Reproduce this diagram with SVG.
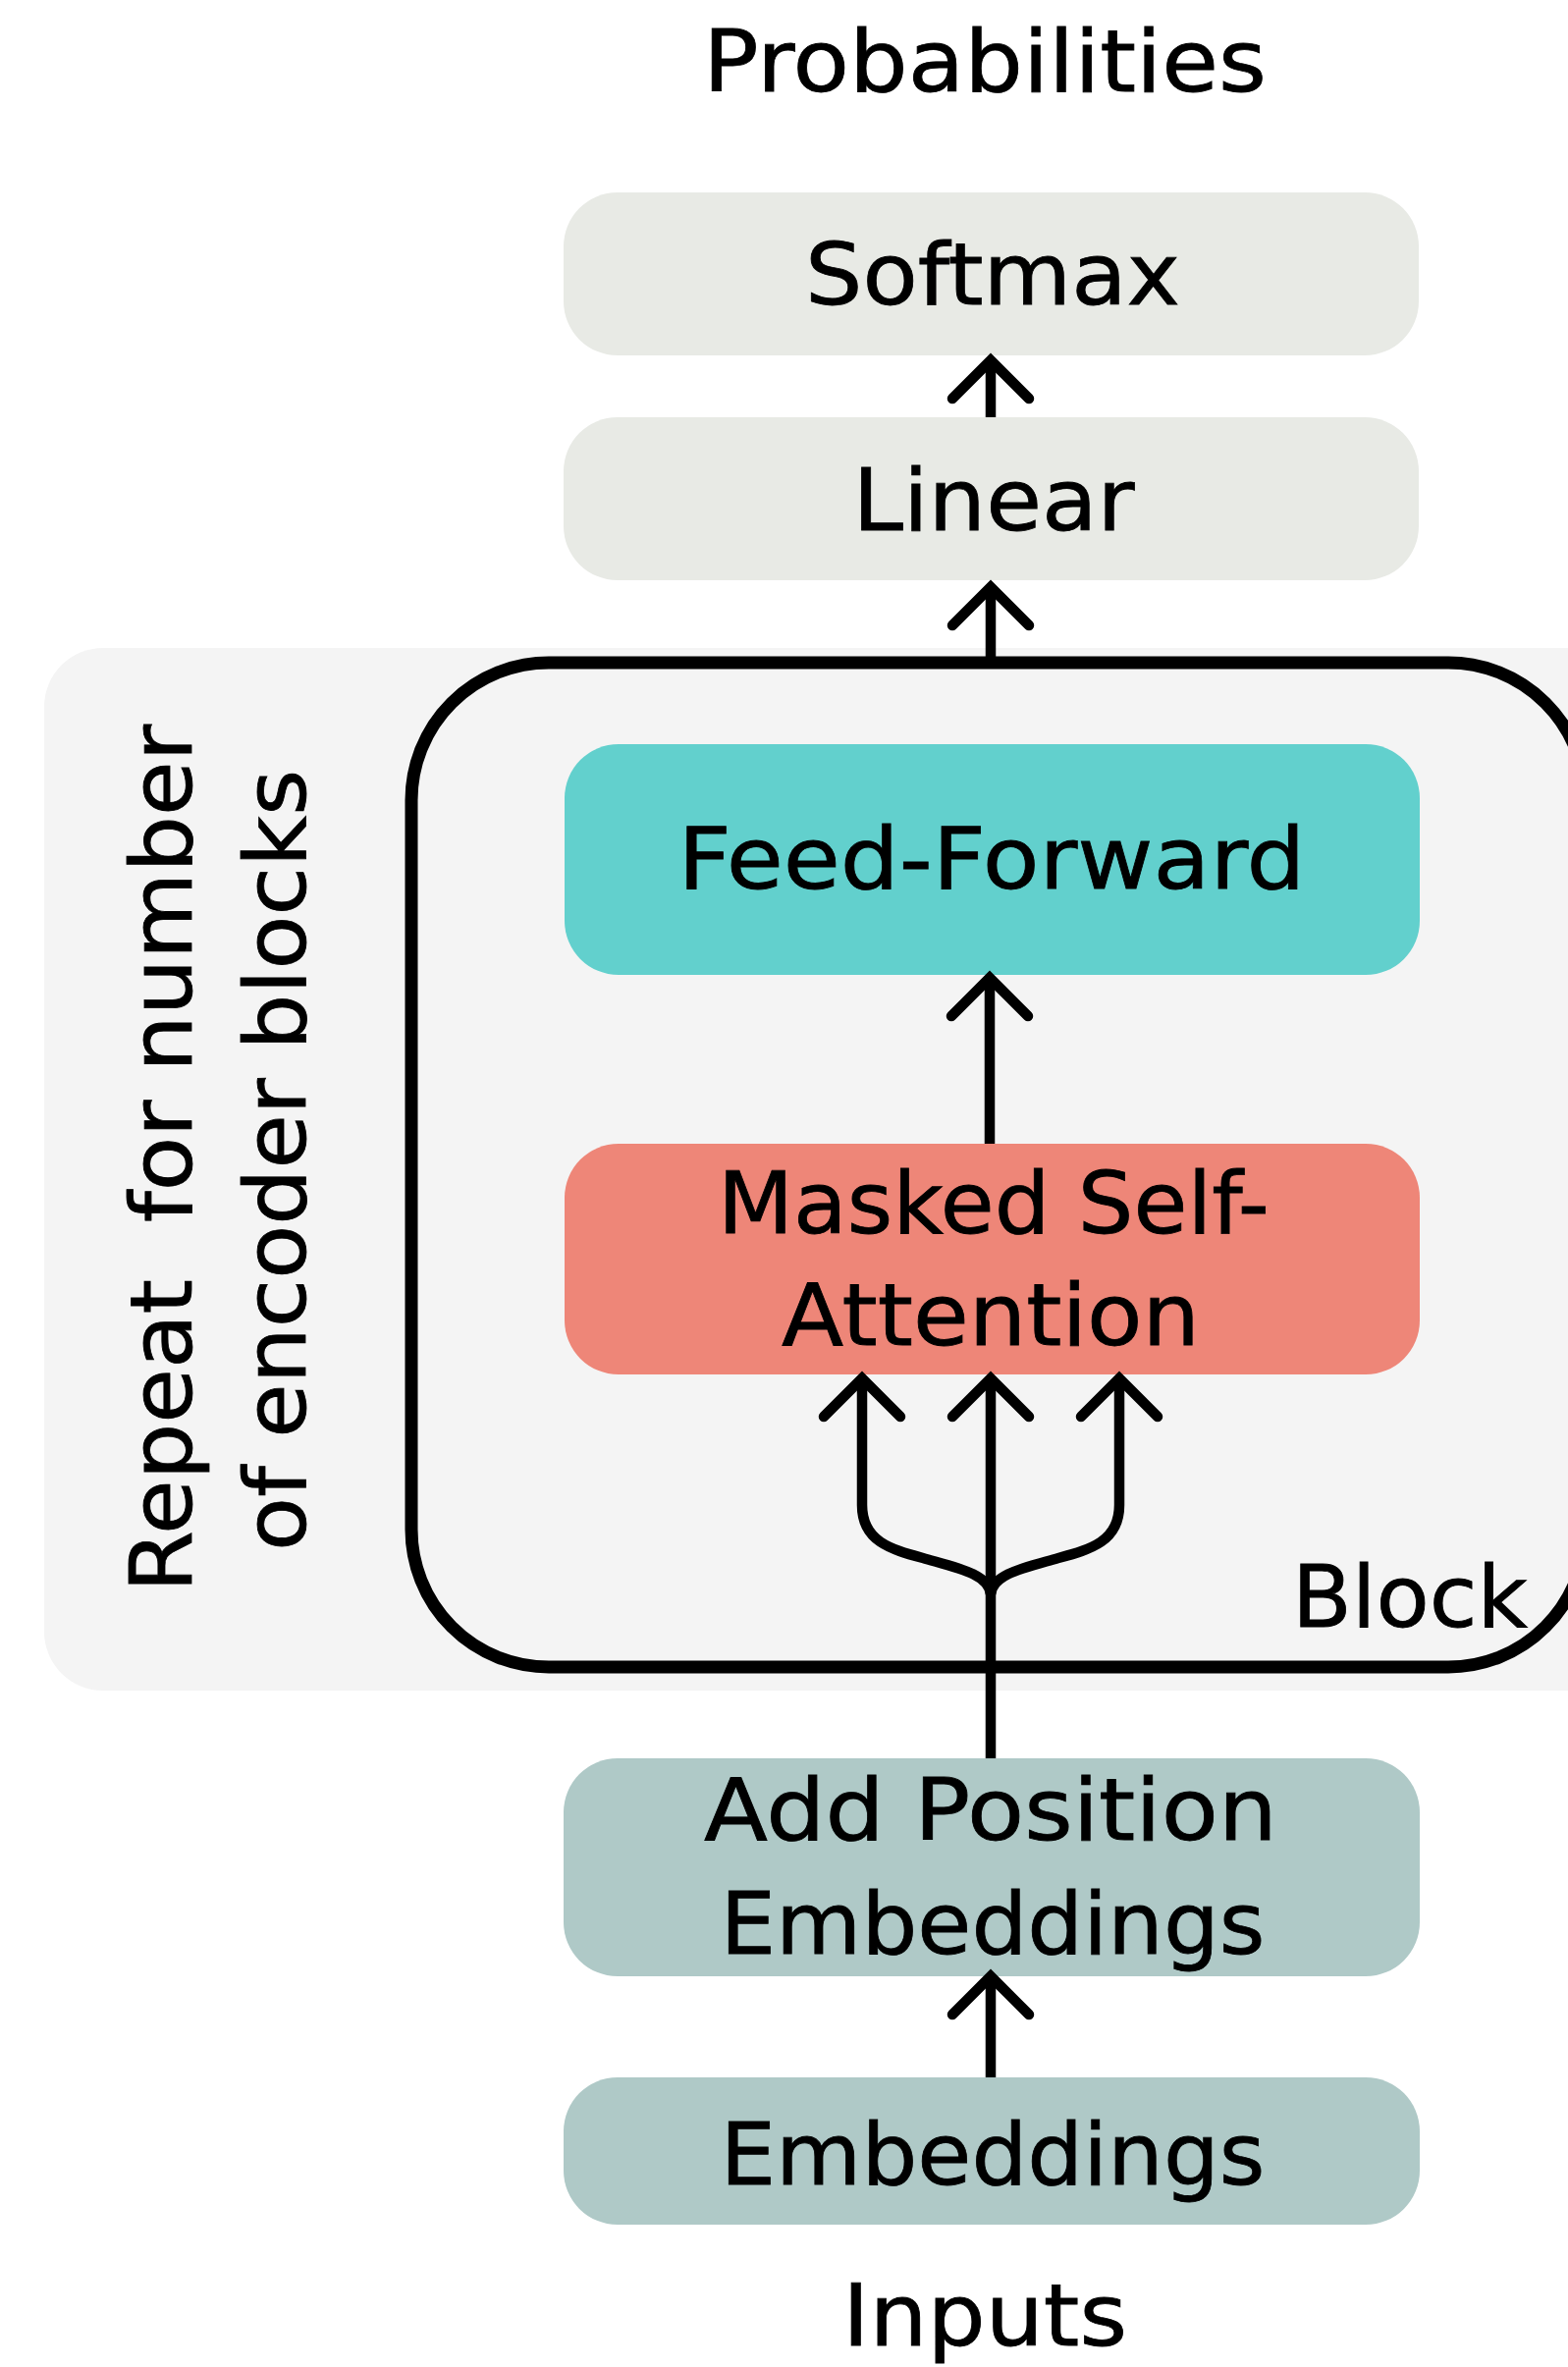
<svg xmlns="http://www.w3.org/2000/svg" width="1597" height="2411" viewBox="0 0 1597 2411">
<style>
.t{font-family:"DejaVu Sans","Liberation Sans",sans-serif;font-size:88px;fill:#000;stroke:#000;stroke-width:0.8px;}
.c{text-anchor:middle;}
.box{stroke:none;}
.gray{fill:#E8EAE5;}
.teal{fill:#62D0CD;}
.salmon{fill:#EE8678;}
.emb{fill:#AFC9C7;}
.ln{fill:none;stroke:#000;stroke-width:10.5;}
.hd{fill:none;stroke:#000;stroke-width:10.5;stroke-linecap:round;stroke-linejoin:miter;}
</style>
<rect width="1597" height="2411" fill="#FFFFFF"/>
<g id="repeat-region">
<rect x="45" y="660" width="1620" height="1062" rx="60" fill="#F4F4F4"/>
<text class="t c" transform="translate(195,1180) rotate(-90)" textLength="884" lengthAdjust="spacingAndGlyphs" style="white-space:pre">Repeat  for number</text>
<text class="t c" transform="translate(311,1182) rotate(-90)" textLength="796" lengthAdjust="spacingAndGlyphs">of encoder blocks</text>
</g>
<g id="block">
<rect x="419" y="675" width="1196" height="1023" rx="140" fill="none" stroke="#000" stroke-width="13"/>
<text class="t" x="1316" y="1657" textLength="240" lengthAdjust="spacingAndGlyphs">Block</text>
</g>
<g id="probabilities">
<text class="t c" x="1003" y="93" textLength="574" lengthAdjust="spacingAndGlyphs">Probabilities</text>
</g>
<g id="softmax">
<rect class="box gray" x="574" y="196" width="871" height="166" rx="55"/>
<text class="t c" x="1011" y="310" textLength="382" lengthAdjust="spacingAndGlyphs">Softmax</text>
</g>
<g id="linear">
<rect class="box gray" x="574" y="425" width="871" height="166" rx="55"/>
<text class="t c" x="1012" y="540" textLength="287" lengthAdjust="spacingAndGlyphs">Linear</text>
</g>
<g id="feed-forward">
<rect class="box teal" x="575" y="758" width="871" height="235" rx="55"/>
<text class="t c" x="1010" y="905" textLength="639" lengthAdjust="spacingAndGlyphs">Feed-Forward</text>
</g>
<g id="masked-self-attention">
<rect class="box salmon" x="575" y="1165" width="871" height="235" rx="55"/>
<text class="t c" x="1012" y="1256" textLength="562" lengthAdjust="spacingAndGlyphs">Masked Self-</text>
<text class="t c" x="1009" y="1370" textLength="426" lengthAdjust="spacingAndGlyphs">Attention</text>
</g>
<g id="add-position-embeddings">
<rect class="box emb" x="574" y="1791" width="872" height="222" rx="55"/>
<text class="t c" x="1009" y="1874" textLength="584" lengthAdjust="spacingAndGlyphs">Add Position</text>
<text class="t c" x="1011" y="1990" textLength="555" lengthAdjust="spacingAndGlyphs">Embeddings</text>
</g>
<g id="embeddings">
<rect class="box emb" x="574" y="2116" width="872" height="150" rx="55"/>
<text class="t c" x="1011" y="2225" textLength="555" lengthAdjust="spacingAndGlyphs">Embeddings</text>
</g>
<g id="inputs">
<text class="t c" x="1003" y="2389" textLength="290" lengthAdjust="spacingAndGlyphs">Inputs</text>
</g>
<g id="connectors">
<path class="ln" d="M1009,425 V370"/>
<path class="hd" d="M970,406 L1009,367 L1048,406"/>
<path class="ln" d="M1009,670 V600"/>
<path class="hd" d="M970,637 L1009,598 L1048,637"/>
<path class="ln" d="M1008,1165 V998"/>
<path class="hd" d="M969,1035 L1008,996 L1047,1035"/>
<path class="ln" d="M1009,1791 V1408"/>
<path class="hd" d="M970,1443 L1009,1404 L1048,1443"/>
<path class="ln" d="M878,1408 V1533 C878,1570 907,1578 940,1587 C975,1597 1007,1603 1009,1624"/>
<path class="hd" d="M839,1443 L878,1404 L917,1443"/>
<path class="ln" d="M1140,1408 V1533 C1140,1570 1111,1578 1078,1587 C1043,1597 1011,1603 1009,1624"/>
<path class="hd" d="M1101,1443 L1140,1404 L1179,1443"/>
<path class="ln" d="M1009,2116 V2016"/>
<path class="hd" d="M970,2052 L1009,2013 L1048,2052"/>
</g>
</svg>
